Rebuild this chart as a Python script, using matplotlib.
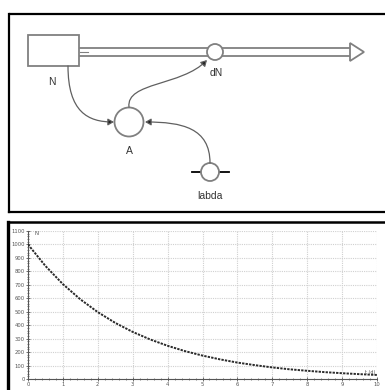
import matplotlib
matplotlib.use("Agg")
import matplotlib.pyplot as plt
from matplotlib.patches import Rectangle, Circle, Polygon, FancyArrowPatch
from matplotlib.path import Path
from matplotlib.ticker import MultipleLocator

# ---- data ----
t_values = [0, 0.5, 1, 1.5, 2, 2.5, 3, 3.5, 4, 4.5, 5, 5.5, 6, 6.5, 7, 7.5, 8, 8.5, 9, 9.5, 10]
n_values = [1000, 840, 705, 592, 497, 417, 350, 294, 247, 207, 174, 146, 122, 103, 86, 72, 61, 51, 43, 36, 30]
x_ticks = [0, 1, 2, 3, 4, 5, 6, 7, 8, 9, 10]
y_ticks = [0, 100, 200, 300, 400, 500, 600, 700, 800, 900, 1000, 1100]
node_labels = ["N", "dN", "A", "labda"]
y_axis_label = "N"
x_axis_label = "t (d)"

W, H = 385, 390
fig = plt.figure(figsize=(W / 100, H / 100), dpi=100)
fig.patch.set_facecolor("white")

# ---- diagram canvas in pixel coords ----
d = fig.add_axes([0, 0, 1, 1])
d.set_xlim(0, W)
d.set_ylim(H, 0)
d.axis("off")

# panel borders
d.plot([9, W], [14, 14], color="black", lw=1.6, solid_capstyle="butt")
d.plot([9, 9], [14, 212], color="black", lw=1.6)
d.plot([9, W], [212, 212], color="black", lw=1.6)
d.plot([8, W], [222, 222], color="black", lw=1.8)
d.plot([8, 8], [222, H], color="black", lw=2.4)

g = "#808080"
# pipe
d.plot([79, 352], [48, 48], color=g, lw=1.3, zorder=2)
d.plot([79, 352], [56, 56], color=g, lw=1.3, zorder=2)
d.plot([80, 88], [52, 52], color=g, lw=0.8, zorder=2)
d.add_patch(Polygon([(350, 43), (364, 52), (350, 61)], closed=True,
                    facecolor="white", edgecolor=g, lw=1.3, zorder=3))
# stock
d.add_patch(Rectangle((28, 35), 51, 31, facecolor="white", edgecolor=g, lw=1.3, zorder=3))
# valve
d.add_patch(Circle((215, 52), 8, facecolor="white", edgecolor=g, lw=1.3, zorder=4))
# converter A
d.add_patch(Circle((129, 122), 14.5, facecolor="white", edgecolor=g, lw=1.3, zorder=4))
# constant labda
d.plot([192, 229], [172, 172], color="black", lw=1.3, zorder=3)
d.add_patch(Circle((210, 172), 9, facecolor="white", edgecolor=g, lw=1.3, zorder=4))

lab_kw = dict(fontsize=7.5, color="#333333", ha="center", va="center",
              family=["Liberation Sans", "DejaVu Sans"])
d.text(52, 82, node_labels[0], **lab_kw)
d.text(216, 73, node_labels[1], **lab_kw)
d.text(129, 151, node_labels[2], **lab_kw)
d.text(210, 196, node_labels[3], **lab_kw)

def connector(pts):
    codes = [Path.MOVETO, Path.CURVE4, Path.CURVE4, Path.CURVE4]
    p = Path(pts, codes)
    a = FancyArrowPatch(path=p, arrowstyle="-|>,head_length=3.5,head_width=2",
                        color="#606060", lw=0.9, zorder=5, shrinkA=0, shrinkB=0)
    a.set_facecolor("#222222")
    d.add_patch(a)

connector([(68, 66), (68, 112), (88, 122), (114, 122)])
connector([(129, 107), (126, 82), (182, 86), (207, 60)])
connector([(210, 163), (210, 128), (182, 122), (145, 122)])

# ---- plot ----
ax = fig.add_axes([28 / W, 11 / H, (377 - 28) / W, (379 - 231) / H])
ax.plot(t_values, n_values, color="#2a2a2a", lw=1.4, linestyle=(0, (1.2, 0.6)), zorder=3)
ax.set_xlim(0, 10)
ax.set_ylim(0, 1100)
ax.set_xticks(x_ticks)
ax.set_yticks(y_ticks)
ax.xaxis.set_minor_locator(MultipleLocator(0.2))
ax.yaxis.set_minor_locator(MultipleLocator(20))
ax.grid(True, which="major", color="#d0d0d0", lw=0.8, linestyle=(0, (1, 1)))
for s in ["top", "right"]:
    ax.spines[s].set_visible(False)
for s in ["left", "bottom"]:
    ax.spines[s].set_color("#555555")
    ax.spines[s].set_linewidth(0.8)
ax.tick_params(which="major", length=3, width=0.6, color="#555555", labelsize=3.8,
               labelcolor="#555555", pad=1, direction="inout")
ax.tick_params(which="minor", length=2, width=0.5, color="#555555", direction="inout")
ax.set_facecolor("none")
ax.text(0.2, 1080, y_axis_label, fontsize=4, color="#555555", va="center")
ax.text(9.8, 45, x_axis_label, fontsize=3.5, color="#555555", ha="center", va="center")

fig.savefig("out.png", dpi=100, facecolor="white")
